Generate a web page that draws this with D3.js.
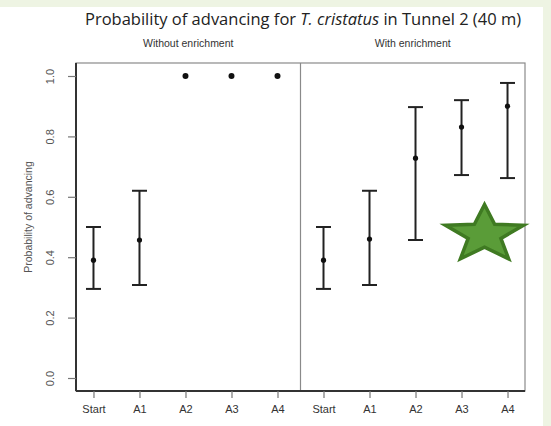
<!DOCTYPE html>
<html>
<head>
<meta charset="utf-8">
<script src="https://cdn.jsdelivr.net/npm/d3@7"></script>
<style>
  body { margin: 0; background: #eef4e3; }
  svg { display: block; }
</style>
</head>
<body>
<div id="chart"></div>
<script>
// values
const stages = ["Start", "A1", "A2", "A3", "A4"];
const groups = ["Without enrichment", "With enrichment"];
const estWithout = [0.39, 0.457, 1, 1, 1];
const lowWithout = [0.295, 0.308, null, null, null];
const upWithout = [0.5, 0.62, null, null, null];
const estWith = [0.39, 0.46, 0.728, 0.831, 0.9];
const lowWith = [0.295, 0.308, 0.457, 0.672, 0.662];
const upWith = [0.5, 0.62, 0.897, 0.92, 0.977];
const yTicks = [0, 0.2, 0.4, 0.6, 0.8, 1.0];

const W = 551, H = 426;
const plot = { left: 76, right: 525, top: 63, bottom: 391 };

const svg = d3.select("#chart").append("svg")
  .attr("width", W)
  .attr("height", H);

// white card on the green slide
svg.append("rect")
  .attr("x", 0).attr("y", 7)
  .attr("width", 543).attr("height", H - 7)
  .attr("fill", "white");

// one row of points: group + stage
const rows = [];
groups.forEach((g, gi) => {
  const est = gi == 0 ? estWithout : estWith;
  const lo = gi == 0 ? lowWithout : lowWith;
  const up = gi == 0 ? upWithout : upWith;
  stages.forEach((s, si) => {
    rows.push({ key: g + "|" + s, group: g, stage: s, est: est[si], lo: lo[si], up: up[si] });
  });
});

const x = d3.scalePoint()
  .domain(rows.map(d => d.key))
  .range([plot.left, plot.right])
  .padding(0.38);

const y = d3.scaleLinear()
  .domain([0, 1])
  .range([378, 76]);

// title
const title = svg.append("text")
  .attr("x", 303)
  .attr("y", 25)
  .attr("text-anchor", "middle")
  .attr("font-family", "'Open Sans', sans-serif")
  .attr("font-size", 16.5)
  .attr("fill", "#222");
title.append("tspan").text("Probability of advancing for ");
title.append("tspan").attr("font-style", "italic").text("T. cristatus");
title.append("tspan").text(" in Tunnel 2 (40 m)");

// panel labels
const mid = (x(rows[4].key) + x(rows[5].key)) / 2;
svg.selectAll(".panel-label")
  .data(groups)
  .join("text")
  .attr("class", "panel-label")
  .attr("x", (d, i) => i == 0 ? (plot.left + mid) / 2 : (mid + plot.right) / 2)
  .attr("y", 47)
  .attr("text-anchor", "middle")
  .attr("font-family", "'Liberation Sans', Arial, sans-serif")
  .attr("font-size", 10.5)
  .attr("fill", "#333")
  .text(d => d);

// frame
svg.append("rect")
  .attr("x", plot.left).attr("y", plot.top)
  .attr("width", plot.right - plot.left).attr("height", plot.bottom - plot.top)
  .attr("fill", "none")
  .attr("stroke", "#8a8a8a")
  .attr("stroke-width", 1.2);

svg.append("line")
  .attr("x1", mid).attr("x2", mid)
  .attr("y1", plot.top).attr("y2", plot.bottom)
  .attr("stroke", "#8a8a8a")
  .attr("stroke-width", 1.2);

// axes
const yAxis = svg.append("g")
  .attr("transform", "translate(" + plot.left + ",0)")
  .call(d3.axisLeft(y).tickValues(yTicks).tickFormat(d3.format(".1f")).tickSize(8).tickSizeOuter(0));

yAxis.select(".domain")
  .attr("d", "M0," + plot.top + "V" + plot.bottom)
  .attr("stroke", "#333")
  .attr("stroke-width", 2);
yAxis.selectAll(".tick line").attr("stroke", "#777").attr("stroke-width", 1.2);
yAxis.selectAll(".tick text")
  .attr("transform", "rotate(-90)")
  .attr("x", 0)
  .attr("y", -26)
  .attr("dy", "0.35em")
  .attr("text-anchor", "middle")
  .attr("font-family", "'Liberation Sans', Arial, sans-serif")
  .attr("font-size", 11)
  .attr("fill", "#555");

const xAxis = svg.append("g")
  .attr("transform", "translate(0," + plot.bottom + ")")
  .call(d3.axisBottom(x).tickFormat(k => k.split("|")[1]).tickSize(7).tickSizeOuter(0));

xAxis.select(".domain")
  .attr("d", "M" + plot.left + ",0H" + plot.right)
  .attr("stroke", "#333")
  .attr("stroke-width", 2);
xAxis.selectAll(".tick line").attr("stroke", "#777").attr("stroke-width", 1.2);
xAxis.selectAll(".tick text")
  .attr("y", 18)
  .attr("dy", "0.35em")
  .attr("font-family", "'Liberation Sans', Arial, sans-serif")
  .attr("font-size", 11)
  .attr("fill", "#333");

svg.append("text")
  .attr("transform", "translate(28," + 217 + ") rotate(-90)")
  .attr("text-anchor", "middle")
  .attr("dy", "0.35em")
  .attr("font-family", "'Liberation Sans', Arial, sans-serif")
  .attr("font-size", 10.5)
  .attr("fill", "#555")
  .text("Probability of advancing");

// error bars
const bars = rows.filter(d => d.lo != null);
const cap = 7.5;
const g = svg.append("g").attr("stroke", "#222").attr("stroke-width", 2);

g.selectAll(".whisker")
  .data(bars)
  .join("line")
  .attr("x1", d => x(d.key)).attr("x2", d => x(d.key))
  .attr("y1", d => y(d.lo)).attr("y2", d => y(d.up));

g.selectAll(".cap-up")
  .data(bars)
  .join("line")
  .attr("class", "cap-up")
  .attr("x1", d => x(d.key) - cap).attr("x2", d => x(d.key) + cap)
  .attr("y1", d => y(d.up)).attr("y2", d => y(d.up));

g.selectAll(".cap-lo")
  .data(bars)
  .join("line")
  .attr("class", "cap-lo")
  .attr("x1", d => x(d.key) - cap).attr("x2", d => x(d.key) + cap)
  .attr("y1", d => y(d.lo)).attr("y2", d => y(d.lo));

svg.selectAll(".pt")
  .data(rows)
  .join("circle")
  .attr("class", "pt")
  .attr("cx", d => x(d.key))
  .attr("cy", d => y(d.est))
  .attr("r", d => d.lo == null ? 3 : 2.6)
  .attr("fill", "#111");

// green star sticker, placed between A3 and A4 of the right panel
const starCx = (x(rows[8].key) + x(rows[9].key)) / 2;
const starCy = y(0.475);
const rx = 41, ry = 30;
const starPts = d3.range(10).map(i => {
  const a = -Math.PI / 2 + i * Math.PI / 5;
  const r = i % 2 == 0 ? 1 : 0.42;
  return [starCx + Math.cos(a) * r * rx, starCy + Math.sin(a) * r * ry];
});
svg.append("path")
  .attr("d", d3.line()(starPts) + "Z")
  .attr("fill", "#5a9c38")
  .attr("stroke", "#3f7a22")
  .attr("stroke-width", 3.5)
  .attr("stroke-linejoin", "miter");
</script>
</body>
</html>
